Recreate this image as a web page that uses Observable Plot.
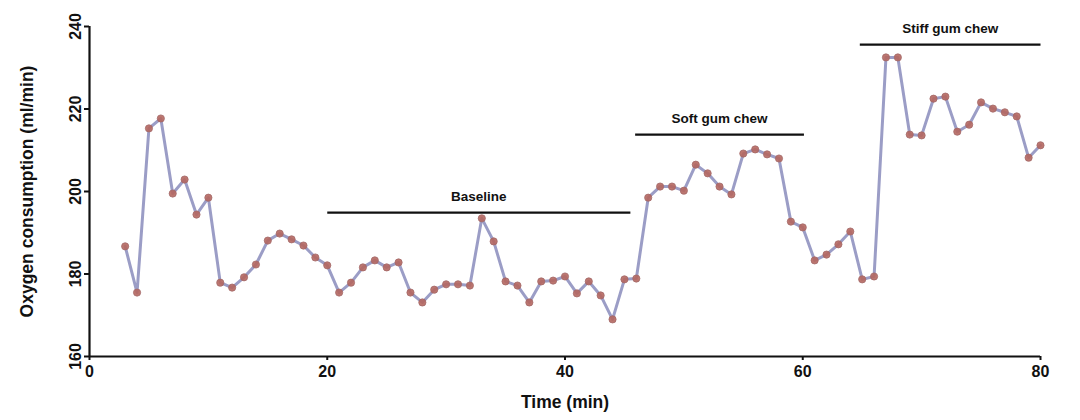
<!DOCTYPE html>
<html>
<head>
<meta charset="utf-8">
<script src="https://cdn.jsdelivr.net/npm/d3@7"></script>
<script src="https://cdn.jsdelivr.net/npm/@observablehq/plot@0.6"></script>
<style>
  html, body { margin: 0; padding: 0; background: #fff; }
  #chart svg { display: block; }
</style>
</head>
<body>
<div id="chart"></div>
<script>
const times = [3,4,5,6,7,8,9,10,11,12,13,14,15,16,17,18,19,20,21,22,23,24,25,26,27,28,29,30,31,32,33,34,35,36,37,38,39,40,41,42,43,44,45,46,47,48,49,50,51,52,53,54,55,56,57,58,59,60,61,62,63,64,65,66,67,68,69,70,71,72,73,74,75,76,77,78,79,80];
const oxygen = [186.7,175.5,215.3,217.7,199.5,202.9,194.4,198.5,177.9,176.7,179.2,182.3,188.1,189.8,188.4,186.9,184,182.1,175.5,177.9,181.6,183.3,181.6,182.8,175.5,173.1,176.2,177.5,177.5,177.2,193.5,187.9,178.2,177.2,173.1,178.2,178.4,179.4,175.3,178.2,174.8,169,178.7,178.9,198.5,201.2,201.2,200.2,206.5,204.4,201.2,199.3,209.2,210.2,209,208,192.7,191.3,183.3,184.7,187.2,190.3,178.7,179.4,232.5,232.5,213.8,213.6,222.5,223,214.5,216.2,221.6,220.1,219.2,218.2,208.2,211.2];

const phaseLabels = ["Baseline", "Soft gum chew", "Stiff gum chew"];
const phaseStart = [20, 45.9, 64.8];
const phaseEnd = [45.5, 60.1, 80];
const phaseLevel = [194.9, 213.8, 235.6];

const xTicks = [0, 20, 40, 60, 80];
const yTicks = [160, 180, 200, 220, 240];

const data = times.map((t, i) => ({t, v: oxygen[i]}));
const phases = phaseLabels.map((label, i) => ({
  label, x1: phaseStart[i], x2: phaseEnd[i], y: phaseLevel[i], mid: (phaseStart[i] + phaseEnd[i]) / 2
}));

const font = "'Liberation Sans', Arial, Helvetica, sans-serif";

const plot = Plot.plot({
  width: 1080,
  height: 420,
  marginLeft: 89,
  marginRight: 40,
  marginTop: 26,
  marginBottom: 64,
  style: {fontFamily: font, background: "#fff", overflow: "visible"},
  x: {type: "linear", domain: [0, 80]},
  y: {type: "linear", domain: [160, 240]},
  marks: [
    Plot.axisY({
      ticks: yTicks, tickSize: 5, tickPadding: 4, tickRotate: -90,
      stroke: "#111", strokeWidth: 2, fontSize: 16, fontWeight: "bold", fill: "#111",
      label: null
    }),
    Plot.text(["Oxygen consumption (ml/min)"], {
      frameAnchor: "left", textAnchor: "middle", dx: -62, rotate: -90, fontSize: 17.5, fontWeight: "bold", fill: "#111"
    }),
    Plot.axisX({
      ticks: xTicks, tickSize: 4, tickPadding: 5,
      stroke: "#111", strokeWidth: 2, fontSize: 16, fontWeight: "bold", fill: "#111",
      label: null
    }),
    Plot.text(["Time (min)"], {
      frameAnchor: "bottom", dy: 51, fontSize: 17.5, fontWeight: "bold", fill: "#111"
    }),
    Plot.ruleX([0], {stroke: "#111", strokeWidth: 2.2}),
    Plot.ruleY([160], {stroke: "#111", strokeWidth: 2.2}),
    Plot.line(data, {x: "t", y: "v", stroke: "#9b9dc6", strokeWidth: 3}),
    Plot.dot(data, {x: "t", y: "v", r: 3.6, fill: "#b5675f", stroke: "#a36a6a", strokeWidth: 0.8, fillOpacity: 0.9}),
    Plot.link(phases, {x1: "x1", x2: "x2", y1: "y", y2: "y", stroke: "#111", strokeWidth: 2.2}),
    Plot.link(phases, {x1: "mid", x2: "mid", y1: "y", y2: "y", dy: -2, stroke: "#111", strokeWidth: 3, strokeLinecap: "butt"}),
    Plot.text(phases, {x: "mid", y: "y", text: "label", dy: -16, fontSize: 13.5, fontWeight: "bold", fill: "#111"})
  ]
});

document.getElementById("chart").appendChild(plot);
</script>
</body>
</html>
